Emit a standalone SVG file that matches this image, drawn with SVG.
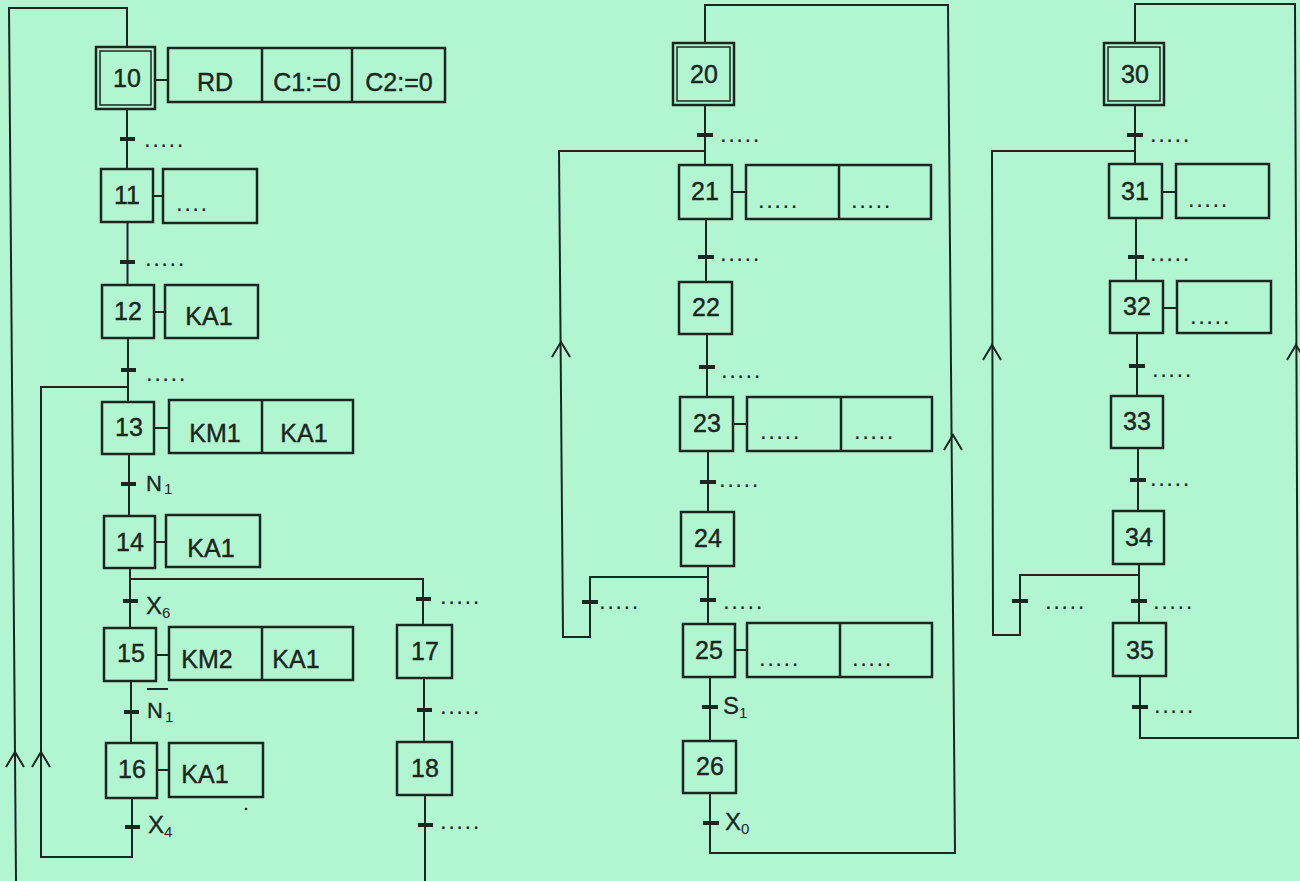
<svg xmlns="http://www.w3.org/2000/svg" width="1300" height="881" viewBox="0 0 1300 881">
<style>
.bx{fill:none;stroke:#1b261e;stroke-width:2.5}
.in{fill:none;stroke:#1b261e;stroke-width:1.5}
.ln{fill:none;stroke:#1b261e;stroke-width:2}
.tb{stroke:#1b261e;stroke-width:4}
.t{font-family:"Liberation Sans",Arial,sans-serif;font-size:25px;fill:#1b261e;stroke:#1b261e;stroke-width:0.4}
.m{text-anchor:middle}
.lb{font-family:"Liberation Sans",Arial,sans-serif;font-size:24px;fill:#1b261e;stroke:#1b261e;stroke-width:0.3}
.nl{font-family:"Liberation Sans",Arial,sans-serif;font-size:22px;fill:#1b261e;stroke:#1b261e;stroke-width:0.3}
.sb{font-family:"Liberation Sans",Arial,sans-serif;font-size:15px;fill:#1b261e}
.d{font-family:"Liberation Sans",Arial,sans-serif;font-size:24px;letter-spacing:1.5px;fill:#1b261e}
</style>
<rect width="1300" height="881" fill="#b2f5d1"/>

<g id="connectors">
  <!-- column 1 -->
  <polyline class="ln" points="16,881 9,8 127,8 127,47"/>
  <line class="ln" x1="127" y1="109" x2="127" y2="169"/>
  <line class="ln" x1="127.5" y1="222" x2="127.5" y2="285"/>
  <line class="ln" x1="128" y1="338" x2="128" y2="402"/>
  <line class="ln" x1="129" y1="454" x2="129" y2="516"/>
  <polyline class="ln" points="130,568 130,628"/>
  <polyline class="ln" points="130,579 423,579 423,625"/>
  <line class="ln" x1="131" y1="681" x2="131" y2="743"/>
  <polyline class="ln" points="132,798 132,857 41,857 41,387 128,387"/>
  <line class="ln" x1="424" y1="678" x2="424" y2="742"/>
  <line class="ln" x1="425" y1="795" x2="425" y2="881"/>
  <polyline class="ln" points="6,767 15,752 24,767"/>
  <polyline class="ln" points="32,767 41,752 50,767"/>
  <!-- column 2 -->
  <polyline class="ln" points="705,43 705,5 948,5 955,853 710,853 710,793"/>
  <line class="ln" x1="705" y1="105" x2="705" y2="165"/>
  <polyline class="ln" points="705,151 559,151 563,637 590,637 590,577 708,577"/>
  <line class="ln" x1="706" y1="219" x2="706" y2="282"/>
  <line class="ln" x1="707" y1="334" x2="707" y2="397"/>
  <line class="ln" x1="708" y1="451" x2="708" y2="512"/>
  <line class="ln" x1="708" y1="566" x2="708" y2="624"/>
  <line class="ln" x1="710" y1="677" x2="710" y2="741"/>
  <polyline class="ln" points="552,357 561,342 570,357"/>
  <polyline class="ln" points="944,450 953,435 962,450"/>
  <!-- column 3 -->
  <polyline class="ln" points="1135,43 1135,4 1295,4 1298,738 1140,738 1140,676"/>
  <line class="ln" x1="1135" y1="105" x2="1135" y2="164"/>
  <polyline class="ln" points="1135,151 992,151 993,635 1020,635 1020,575 1139,575"/>
  <line class="ln" x1="1136" y1="218" x2="1136" y2="281"/>
  <line class="ln" x1="1137" y1="333" x2="1137" y2="396"/>
  <line class="ln" x1="1138" y1="448" x2="1138" y2="511"/>
  <line class="ln" x1="1139" y1="564" x2="1139" y2="623"/>
  <polyline class="ln" points="983,360 992,345 1001,360"/>
  <polyline class="ln" points="1287,360 1296,345 1305,360"/>
</g>

<g id="transitions">
  <line class="tb" x1="120" y1="139" x2="135" y2="139"/><text class="d" x="144" y="147">.....</text>
  <line class="tb" x1="120" y1="262" x2="135" y2="262"/><text class="d" x="145" y="266">.....</text>
  <line class="tb" x1="121" y1="370" x2="136" y2="370"/><text class="d" x="146" y="381">.....</text>
  <line class="tb" x1="121" y1="484" x2="136" y2="484"/><text class="nl" x="146" y="491">N</text><text class="sb" x="164" y="494">1</text>
  <line class="tb" x1="123" y1="601" x2="138" y2="601"/><text class="lb" x="146" y="614">X</text><text class="sb" x="162" y="618">6</text>
  <line class="tb" x1="124" y1="712" x2="139" y2="712"/><line class="ln" x1="147" y1="689" x2="168" y2="689"/><text class="nl" x="147" y="718">N</text><text class="sb" x="165" y="722">1</text>
  <line class="tb" x1="125" y1="827" x2="140" y2="827"/><text class="lb" x="148" y="833">X</text><text class="sb" x="164" y="837">4</text>
  <line class="tb" x1="416" y1="599" x2="431" y2="599"/><text class="d" x="440" y="604">.....</text>
  <line class="tb" x1="417" y1="710" x2="432" y2="710"/><text class="d" x="440" y="714">.....</text>
  <line class="tb" x1="418" y1="825" x2="433" y2="825"/><text class="d" x="440" y="829">.....</text>

  <line class="tb" x1="697" y1="135" x2="713" y2="135"/><text class="d" x="720" y="142">.....</text>
  <line class="tb" x1="698" y1="257" x2="714" y2="257"/><text class="d" x="720" y="261">.....</text>
  <line class="tb" x1="699" y1="367" x2="715" y2="367"/><text class="d" x="721" y="378">.....</text>
  <line class="tb" x1="700" y1="482" x2="716" y2="482"/><text class="d" x="719" y="487">.....</text>
  <line class="tb" x1="582" y1="602" x2="598" y2="602"/><text class="d" x="599" y="609">.....</text>
  <line class="tb" x1="700" y1="600" x2="716" y2="600"/><text class="d" x="723" y="609">.....</text>
  <line class="tb" x1="702" y1="707" x2="718" y2="707"/><text class="lb" x="723" y="714">S</text><text class="sb" x="739" y="718">1</text>
  <line class="tb" x1="703" y1="823" x2="719" y2="823"/><text class="lb" x="725" y="830">X</text><text class="sb" x="741" y="834">0</text>

  <line class="tb" x1="1127" y1="135" x2="1143" y2="135"/><text class="d" x="1150" y="142">.....</text>
  <line class="tb" x1="1128" y1="257" x2="1144" y2="257"/><text class="d" x="1150" y="261">.....</text>
  <line class="tb" x1="1129" y1="366" x2="1145" y2="366"/><text class="d" x="1152" y="377">.....</text>
  <line class="tb" x1="1130" y1="480" x2="1146" y2="480"/><text class="d" x="1150" y="486">.....</text>
  <line class="tb" x1="1012" y1="601" x2="1028" y2="601"/><text class="d" x="1045" y="609">.....</text>
  <line class="tb" x1="1131" y1="601" x2="1147" y2="601"/><text class="d" x="1153" y="609">.....</text>
  <line class="tb" x1="1132" y1="707" x2="1148" y2="707"/><text class="d" x="1154" y="713">.....</text>
</g>

<g id="step10">
  <rect class="bx" x="96" y="47" width="59" height="62"/>
  <rect class="in" x="100" y="51" width="51" height="54"/>
  <text class="t m" x="127" y="87">10</text>
  <line class="ln" x1="155" y1="80" x2="168" y2="80"/>
  <rect class="bx" x="168" y="48" width="277" height="54"/>
  <line class="bx" x1="262" y1="48" x2="262" y2="102"/>
  <line class="bx" x1="352" y1="48" x2="352" y2="102"/>
  <text class="t m" x="215" y="91">RD</text>
  <text class="t m" x="307" y="91">C1:=0</text>
  <text class="t m" x="399" y="91">C2:=0</text>
</g>
<g id="step11">
  <rect class="bx" x="101" y="169" width="52" height="53"/>
  <text class="t m" x="127" y="204">11</text>
  <line class="ln" x1="153" y1="196" x2="163" y2="196"/>
  <rect class="bx" x="163" y="169" width="94" height="54"/>
  <text class="d" x="176" y="211">....</text>
</g>
<g id="step12">
  <rect class="bx" x="102" y="285" width="52" height="53"/>
  <text class="t m" x="128" y="320">12</text>
  <line class="ln" x1="154" y1="312" x2="165" y2="312"/>
  <rect class="bx" x="165" y="285" width="93" height="53"/>
  <text class="t m" x="209" y="325">KA1</text>
</g>
<g id="step13">
  <rect class="bx" x="102" y="402" width="52" height="52"/>
  <text class="t m" x="129" y="436">13</text>
  <line class="ln" x1="154" y1="428" x2="169" y2="428"/>
  <rect class="bx" x="169" y="400" width="184" height="53"/>
  <line class="bx" x1="262" y1="400" x2="262" y2="453"/>
  <text class="t m" x="215" y="442">KM1</text>
  <text class="t m" x="304" y="442">KA1</text>
</g>
<g id="step14">
  <rect class="bx" x="104" y="516" width="51" height="52"/>
  <text class="t m" x="130" y="551">14</text>
  <line class="ln" x1="155" y1="542" x2="166" y2="542"/>
  <rect class="bx" x="166" y="515" width="94" height="52"/>
  <text class="t m" x="211" y="557">KA1</text>
</g>
<g id="step15">
  <rect class="bx" x="104" y="628" width="52" height="53"/>
  <text class="t m" x="131" y="662">15</text>
  <line class="ln" x1="156" y1="655" x2="169" y2="655"/>
  <rect class="bx" x="169" y="627" width="184" height="53"/>
  <line class="bx" x1="262" y1="627" x2="262" y2="680"/>
  <text class="t m" x="207" y="668">KM2</text>
  <text class="t m" x="296" y="668">KA1</text>
</g>
<g id="step16">
  <rect class="bx" x="106" y="743" width="51" height="55"/>
  <text class="t m" x="132" y="778">16</text>
  <line class="ln" x1="157" y1="770" x2="169" y2="770"/>
  <rect class="bx" x="169" y="743" width="94" height="54"/>
  <text class="t m" x="205" y="783">KA1</text>
  <circle cx="246" cy="809" r="1.3" fill="#1b261e"/>
</g>
<g id="step17">
  <rect class="bx" x="397" y="625" width="55" height="53"/>
  <text class="t m" x="425" y="660">17</text>
</g>
<g id="step18">
  <rect class="bx" x="397" y="742" width="55" height="53"/>
  <text class="t m" x="425" y="777">18</text>
</g>

<g id="step20">
  <rect class="bx" x="673" y="43" width="61" height="62"/>
  <rect class="in" x="677" y="47" width="53" height="54"/>
  <text class="t m" x="704" y="83">20</text>
</g>
<g id="step21">
  <rect class="bx" x="679" y="165" width="53" height="54"/>
  <text class="t m" x="705" y="200">21</text>
  <line class="ln" x1="732" y1="192" x2="746" y2="192"/>
  <rect class="bx" x="746" y="165" width="185" height="54"/>
  <line class="bx" x1="839" y1="165" x2="839" y2="219"/>
  <text class="d" x="758" y="208">.....</text>
  <text class="d" x="851" y="208">.....</text>
</g>
<g id="step22">
  <rect class="bx" x="679" y="282" width="53" height="52"/>
  <text class="t m" x="706" y="316">22</text>
</g>
<g id="step23">
  <rect class="bx" x="680" y="397" width="53" height="54"/>
  <text class="t m" x="707" y="432">23</text>
  <line class="ln" x1="733" y1="424" x2="747" y2="424"/>
  <rect class="bx" x="747" y="397" width="185" height="54"/>
  <line class="bx" x1="841" y1="397" x2="841" y2="451"/>
  <text class="d" x="760" y="439">.....</text>
  <text class="d" x="854" y="439">.....</text>
</g>
<g id="step24">
  <rect class="bx" x="681" y="512" width="53" height="54"/>
  <text class="t m" x="708" y="547">24</text>
</g>
<g id="step25">
  <rect class="bx" x="683" y="624" width="52" height="53"/>
  <text class="t m" x="709" y="659">25</text>
  <line class="ln" x1="735" y1="650" x2="747" y2="650"/>
  <rect class="bx" x="747" y="623" width="185" height="54"/>
  <line class="bx" x1="840" y1="623" x2="840" y2="677"/>
  <text class="d" x="759" y="666">.....</text>
  <text class="d" x="852" y="666">.....</text>
</g>
<g id="step26">
  <rect class="bx" x="683" y="741" width="53" height="52"/>
  <text class="t m" x="710" y="775">26</text>
</g>

<g id="step30">
  <rect class="bx" x="1104" y="43" width="60" height="62"/>
  <rect class="in" x="1108" y="47" width="52" height="54"/>
  <text class="t m" x="1135" y="83">30</text>
</g>
<g id="step31">
  <rect class="bx" x="1109" y="164" width="53" height="54"/>
  <text class="t m" x="1135" y="200">31</text>
  <line class="ln" x1="1162" y1="192" x2="1176" y2="192"/>
  <rect class="bx" x="1176" y="164" width="93" height="54"/>
  <text class="d" x="1188" y="207">.....</text>
</g>
<g id="step32">
  <rect class="bx" x="1110" y="281" width="53" height="52"/>
  <text class="t m" x="1137" y="315">32</text>
  <line class="ln" x1="1163" y1="308" x2="1177" y2="308"/>
  <rect class="bx" x="1177" y="281" width="94" height="52"/>
  <text class="d" x="1190" y="324">.....</text>
</g>
<g id="step33">
  <rect class="bx" x="1111" y="396" width="52" height="52"/>
  <text class="t m" x="1137" y="430">33</text>
</g>
<g id="step34">
  <rect class="bx" x="1113" y="511" width="51" height="53"/>
  <text class="t m" x="1139" y="546">34</text>
</g>
<g id="step35">
  <rect class="bx" x="1113" y="623" width="53" height="53"/>
  <text class="t m" x="1140" y="659">35</text>
</g>
</svg>
